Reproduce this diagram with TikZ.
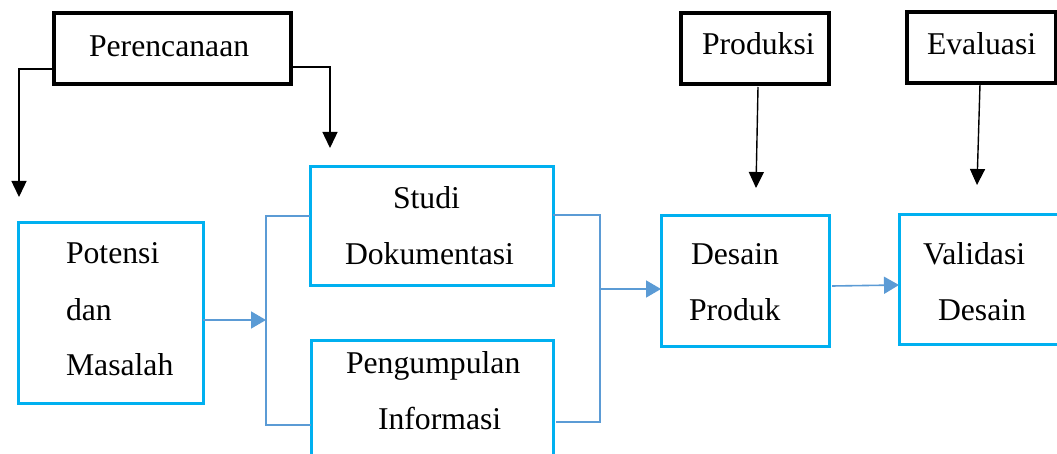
\documentclass[tikz,border=0pt]{standalone}
\usepackage{fontspec}
\setmainfont{Liberation Serif}
\usetikzlibrary{arrows.meta}
\definecolor{boxblue}{HTML}{00B0F0}
\definecolor{lineblue}{HTML}{5B9BD5}
\begin{document}
\begin{tikzpicture}[x=1pt,y=-1pt,
  blackbox/.style={draw=black,line width=3.2pt,inner sep=0pt,outer sep=0pt},
  bluebox/.style={draw=boxblue,line width=3pt,inner sep=0pt,outer sep=0pt},
  txt/.style={anchor=base west,inner sep=0pt,outer sep=0pt,font=\fontsize{31.7}{38}\selectfont},
  blkarrow/.style={draw=black,line width=1.4pt,-{Triangle[length=16pt,width=15pt]}},
  bluearrow/.style={draw=lineblue,line width=1.6pt,-{Triangle[length=15pt,width=17pt]}},
  blueline/.style={draw=lineblue,line width=1.6pt}]
\clip (0,0) rectangle (1057,454);
\fill[white] (0,0) rectangle (1057,454);

% black boxes
\node[blackbox,minimum width=237pt,minimum height=71pt] (per) at (172.5,48.5) {};
\node[blackbox,minimum width=148pt,minimum height=71pt] (prod) at (755,48.5) {};
\node[blackbox,minimum width=149pt,minimum height=71pt] (eval) at (981.5,47.5) {};

% blue boxes
\node[bluebox,minimum width=185pt,minimum height=180pt] (pot) at (110.5,313) {};
\node[bluebox,minimum width=243pt,minimum height=119pt] (studi) at (431.5,226.5) {};
\node[bluebox,minimum width=242pt,minimum height=119pt] (peng) at (432,399.5) {};
\node[bluebox,minimum width=168pt,minimum height=130pt] (des) at (745,281) {};
\node[bluebox,minimum width=168pt,minimum height=129pt] (val) at (983,279.5) {};

% coordinates
\coordinate (tipL) at (19,197);
\coordinate (tipR) at (330,148);
\coordinate (tipP) at (756,188);
\coordinate (tipE) at (977,185);
\coordinate (lb) at (266,320);
\coordinate (rb) at (600,289);

% black arrows
\draw[blkarrow] ([yshift=-20.5pt]per.west) -| (tipL);
\draw[blkarrow] ([yshift=-18.5pt]per.east) -| (tipR);
\draw[blkarrow] ([xshift=3pt,yshift=-3pt]prod.south) -- (tipP);
\draw[blkarrow] ([xshift=-1.5pt,yshift=-1pt]eval.south) -- (tipE);

% blue brackets and arrows
\draw[blueline] ([yshift=10.5pt]studi.west) -| (lb) |- ([yshift=-25.5pt]peng.west);
\draw[bluearrow] ([yshift=-7pt]pot.east) -- (lb);
\draw[blueline] ([yshift=11.5pt]studi.east) -| (rb) |- ([xshift=3pt,yshift=-22.5pt]peng.east);
\draw[bluearrow] (rb) -- ([yshift=-8pt]des.west);
\draw[bluearrow] ([xshift=3pt,yshift=-5pt]des.east) -- ([yshift=-5.5pt]val.west);

% texts
\node[txt] (tper) at (89,57) {Perencanaan};
\node[txt] (tprod) at (702,55) {Produksi};
\node[txt] (teval) at (927,55) {Evaluasi};
\node[txt] (tpot1) at (66,264) {Potensi};
\node[txt] (tpot2) at (66,320) {dan};
\node[txt] (tpot3) at (66,375) {Masalah};
\node[txt] (tst1) at (393,209) {Studi};
\node[txt] (tst2) at (345,265) {Dokumentasi};
\node[txt] (tpe1) at (346,373) {Pengumpulan};
\node[txt] (tpe2) at (378,429) {Informasi};
\node[txt] (tde1) at (691,265) {Desain};
\node[txt] (tde2) at (689,320) {Produk};
\node[txt] (tva1) at (923,265) {Validasi};
\node[txt] (tva2) at (938,320) {Desain};
\end{tikzpicture}
\end{document}
